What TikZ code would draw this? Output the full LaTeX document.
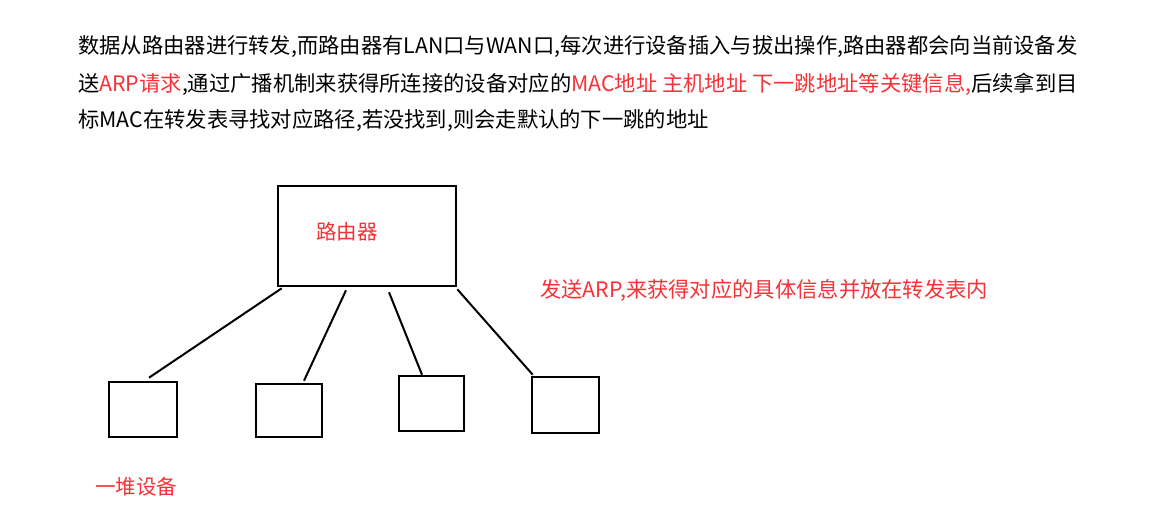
\documentclass[tikz,border=0pt]{standalone}
\usepackage{fontspec}
\setmainfont{Noto Sans CJK SC}
\usetikzlibrary{calc}
\definecolor{redtxt}{RGB}{245,50,55}
\begin{document}
\begin{tikzpicture}[x=1pt,y=-1pt,
  txt/.style={anchor=west,inner sep=0pt,font=\fontsize{21.3pt}{24pt}\selectfont},
  redlabel/.style={txt,text=redtxt},
  box/.style={draw=black,line width=2.6pt,inner sep=0pt,rectangle},
  link/.style={draw=black,line width=2pt}]
\useasboundingbox (0,0) rectangle (1150,519);
\fill[white] (0,0) rectangle (1150,519);
% paragraph
\node[txt] (p1) at (78,47) {数据从路由器进行转发,而路由器有LAN口与WAN口,每次进行设备插入与拔出操作,路由器都会向当前设备发};
\node[txt] (p2) at (78,84) {送\textcolor{redtxt}{ARP请求},通过广播机制来获得所连接的设备对应的\textcolor{redtxt}{MAC地址\ 主机地址\ 下一跳地址等关键信息,}后续拿到目};
\node[txt] (p3) at (78,120) {标MAC在转发表寻找对应路径,若没找到,则会走默认的下一跳的地址};
% router
\node[box,minimum width=178pt,minimum height=100pt] (r) at (367,236) {};
\node[redlabel,font=\fontsize{20.5pt}{24pt}\selectfont] (rl) at (316,232) {路由器};
% devices
\node[box,minimum width=68pt,minimum height=55pt] (d1) at (143,409.5) {};
\node[box,minimum width=66pt,minimum height=53pt] (d2) at (289,410.5) {};
\node[box,minimum width=65pt,minimum height=55pt] (d3) at (431.5,403.5) {};
\node[box,minimum width=67pt,minimum height=56pt] (d4) at (565.5,405) {};
% links
\draw[link] ($(r.south west)+(5,1)$) -- ($(d1.north)+(6,-3)$);
\draw[link] ($(r.south)+(-21,3)$) -- ($(d2.north)+(15,-2)$);
\draw[link] ($(r.south)+(22,5)$) -- ($(d3.north)+(-9.5,0)$);
\draw[link] ($(r.south east)+(0,2)$) -- ($(d4.north west)+(2,-1)$);
% labels
\node[redlabel] (arp) at (540,290) {发送ARP,来获得对应的具体信息并放在转发表内};
\node[redlabel,font=\fontsize{20.5pt}{24pt}\selectfont] (heap) at (95,487) {一堆设备};
\end{tikzpicture}
\end{document}
